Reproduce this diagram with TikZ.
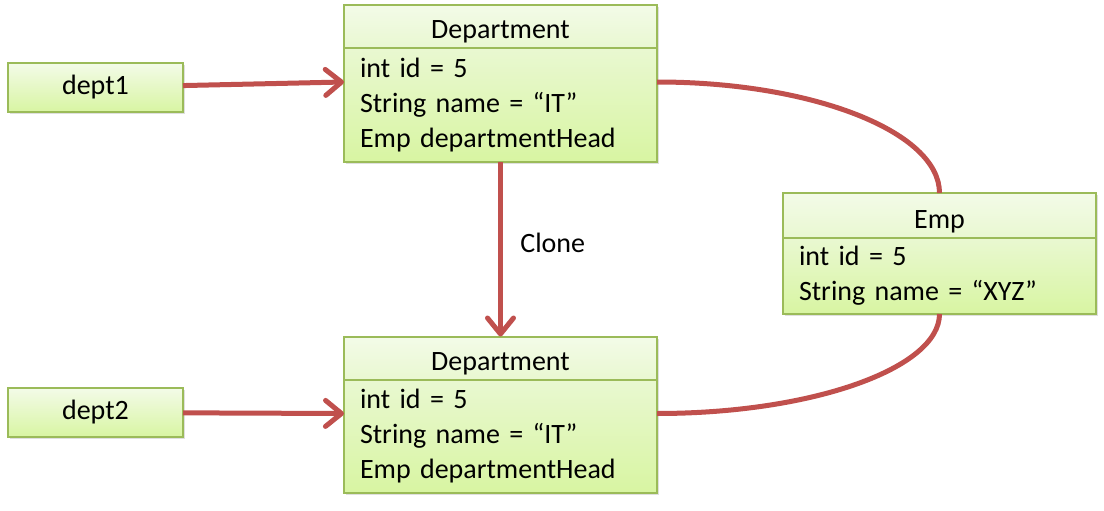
\documentclass[tikz,border=0pt]{standalone}
\usepackage{fontspec}
\setmainfont{Carlito}
\usepackage{tikz}
\usetikzlibrary{shapes, arrows.meta, shadows, positioning, calc}
\definecolor{boxline}{HTML}{9BBB59}
\definecolor{linkred}{HTML}{C0504D}
\definecolor{greentop}{HTML}{F3FBE8}
\definecolor{greenmid}{HTML}{E9F8D1}
\definecolor{greenbot}{HTML}{D8F5A2}
\tikzstyle{boxshadow}=[drop shadow={opacity=0.25, shadow xshift=1.5pt, shadow yshift=-2pt}]
\tikzstyle{refbox}=[draw=boxline, line width=2pt, top color=greentop, bottom color=greenbot, minimum width=175pt, minimum height=49pt, outer sep=0pt, boxshadow]
\tikzstyle{classhead}=[draw=boxline, line width=2pt, top color=greentop, bottom color=greenmid, minimum width=313pt, minimum height=43pt, inner ysep=0pt, text height=25pt, text depth=0pt, outer sep=0pt, boxshadow]
\tikzstyle{classbody}=[draw=boxline, line width=2pt, top color=greenmid, bottom color=greenbot, text width=281pt, inner xsep=16pt, align=left, outer sep=0pt, boxshadow]
\tikzstyle{link}=[draw=linkred, line width=5pt]
\tikzstyle{linktip}=[-{Straight Barb[length=16pt, width=26pt, round]}]

\begin{document}
\begin{tikzpicture}[x=1pt, y=1pt, font=\fontsize{28}{35}\selectfont]
    \useasboundingbox (0,0) rectangle (1104,-511);
    % reference nodes
    \node[refbox] (dept1) at (95.5,-87.5) {dept1};
    \node[refbox] (dept2) at (95.5,-412.5) {dept2};

    % the two Department objects and the shared Emp
    \node[classhead] (dhead1) at (500.5,-26.5) {Department};
    \node[classbody, minimum height=114pt, below=0pt of dhead1] (dbody1) {int id = 5\\String name = “IT”\\Emp departmentHead};

    \node[classhead] (dhead2) at (500.5,-358) {Department};
    \node[classbody, minimum height=113pt, below=0pt of dhead2] (dbody2) {int id = 5\\String name = “IT”\\Emp departmentHead};

    \node[classhead, minimum height=45pt] (ehead) at (939.5,-215.5) {Emp};
    \node[classbody, minimum height=76pt, below=0pt of ehead] (ebody) {int id = 5\\String name = “XYZ”};

    \coordinate (din1) at ($(dbody1.north west)+(0,-34)$);
    \coordinate (din2) at ($(dbody2.north west)+(0,-34)$);
    \coordinate (dout1) at ($(dbody1.north east)+(0,-34)$);
    \coordinate (dout2) at ($(dbody2.north east)+(0,-34)$);

    \path[link, linktip] (dept1) edge (din1);
    \path[link, linktip] (dept2) edge (din2);
    \path[link, linktip] (dbody1) edge node[right, xshift=14pt, yshift=6pt] {Clone} (dhead2);

    \path[link] (dout1) edge[out=0, in=90, out distance=156pt, in distance=61pt] (ehead.north);
    \path[link] (ebody.south) edge[out=-90, in=0, out distance=54pt, in distance=156pt] (dout2);
  \end{tikzpicture}
\end{document}
